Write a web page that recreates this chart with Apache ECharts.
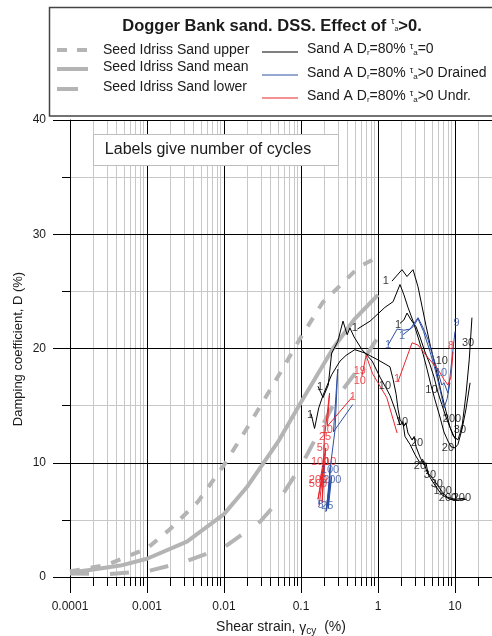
<!DOCTYPE html>
<html>
<head>
<meta charset="utf-8">
<script src="https://cdn.jsdelivr.net/npm/echarts@6/dist/echarts.min.js"></script>
<style>
  html, body { margin: 0; padding: 0; background: #fff; }
  #chart { width: 492px; height: 636px; }
</style>
</head>
<body>
<div id="chart"></div>
<script>
// ---- Data: [shear strain (%), damping D (%)] ----
// Seed & Idriss (1970) sand damping range
const seedIdrissUpper = [[0.0001,0.5],[0.0003,1.05],[0.001,2.5],[0.002,4.2],[0.0046,6.6],[0.01,9.8],[0.022,13.5],[0.046,17.1],[0.1,21],[0.19,24],[0.58,27.2],[1,28]];
const seedIdrissMean  = [[0.0001,0.4],[0.0002,0.65],[0.00045,1.0],[0.001,1.6],[0.0033,3.1],[0.01,5.5],[0.02,7.9],[0.032,9.9],[0.05,11.8],[0.1,15.3],[0.26,20],[0.5,22.6],[1,24.7]];
const seedIdrissLower = [[0.0001,0.3],[0.0003,0.25],[0.001,0.5],[0.003,1.3],[0.01,2.6],[0.03,4.9],[0.05,6.6],[0.1,9.7],[0.3,15.8],[0.5,17.8],[1,21]];

// Sand A, Dr = 80 %, tau_a = 0
const sandA0Test1 = [[0.135,14.3],[0.15,13.0],[0.17,14.8],[0.193,15.9],[0.25,17.7],[0.321,18.9],[0.385,19.4],[0.5,19.9],[0.68,19.6],[1.0,19.0],[1.43,18.4],[1.57,17.3],[1.72,16.0],[1.82,14.7],[1.93,13.8],[2.17,13.2],[2.3,13.5],[2.45,12.6],[2.77,12.0],[2.95,12.3],[3.12,11.4],[3.51,10.5],[3.96,9.8],[4.2,10.0],[4.45,9.1],[5.18,8.6],[5.98,8.0],[6.74,7.5],[7.87,7.0],[10,6.8],[13.5,6.9]];
const sandA0Test2 = [[0.166,16.7],[0.193,15.7],[0.226,16.8],[0.25,19.6],[0.30,20.6],[0.351,22.4],[0.398,21.2],[0.432,21.8],[0.49,21.0],[0.62,19.9],[0.84,18.9],[1.06,17.5],[1.26,16.6],[1.43,15.9],[1.66,14.7],[1.93,13.3],[2.1,13.6],[2.24,12.3],[2.61,11.6],[3.03,10.7],[3.51,10.0],[3.8,10.3],[4.33,9.2],[4.95,8.5],[5.8,7.8],[6.74,7.2],[8.61,6.8],[10.9,6.7],[13.9,6.8]];
const sandA0Test3 = [[0.54,21.7],[0.79,22.4],[1.23,23.6],[1.57,24.1],[1.93,25.6],[2.17,24.7],[2.45,23.6],[2.85,22.4],[3.31,21.0],[3.86,19.5],[4.33,18.2],[4.87,16.8],[5.5,15.5],[6.38,14.0],[7.18,12.7],[8.1,11.9],[8.87,11.4],[10,11.3],[10.9,11.6],[12.3,12.9],[13.9,14.7],[15.7,17.0]];
const sandA0Test4 = [[1.52,25.9],[2.05,26.9],[2.38,26.3],[2.85,26.9],[3.31,25.4],[3.7,23.8],[4.2,22.0],[4.8,20.2],[5.67,18.2],[6.6,16.2],[7.64,14.5],[8.61,13.1],[9.7,12.3],[10.9,12.0],[12.3,13.1],[13.9,16.0],[15.3,19.0],[16.6,22.7]];
const sandA0Test5 = [[1.93,22.2],[2.17,22.5],[2.38,23.1],[2.69,22.5],[3.12,21.9],[3.51,21.0],[4.08,19.7],[4.73,18.6],[5.34,17.5],[5.98,16.2],[6.74,15.1],[7.64,14.0],[8.61,13.1],[9.42,12.4],[10.3,12.0]];

// Sand A, Dr = 80 %, tau_a > 0, drained
const sandADrained1 = [[0.47,15.1],[0.264,12.7],[0.30,18.2],[0.277,12.9],[0.238,9.4],[0.226,6.0],[0.25,8.8],[0.214,5.8],[0.24,9.6],[0.222,6.2],[0.235,8.2],[0.21,5.7]];
const sandADrained2 = [[1.35,20.3],[1.77,21.7],[2.17,21.6],[2.61,21.7],[3.31,22.7],[3.86,21.8],[4.45,20.8],[5.18,19.3],[5.98,18.0],[6.74,16.8],[7.2,17.0],[8.1,16.1],[8.6,17.5],[10,21.5]];
const sandADrained3 = [[2.1,21.2],[2.85,21.9],[3.31,22.6],[3.9,21.5],[4.6,20.0],[5.4,18.4],[6.1,17.0],[6.7,15.8],[7.2,14.8],[7.9,15.6],[8.6,17.0]];

// Sand A, Dr = 80 %, tau_a > 0, undrained
const sandAUndrained1 = [[0.47,15.8],[0.22,13.2],[0.235,16.1],[0.2,12.0],[0.188,6.5],[0.21,11.3],[0.177,8.5],[0.205,10.1],[0.166,6.8],[0.195,9.5],[0.172,6.2]];
const sandAUndrained2 = [[0.62,17.6],[0.70,19.4],[0.85,17.8],[1.0,17.0],[1.3,15.7],[1.77,12.6]];
const sandAUndrained3 = [[1.82,17.1],[2.77,20.5],[3.31,20.3],[4.45,19.2],[5.98,18.2],[7.18,17.3],[8.1,16.8],[8.87,17.5],[9.42,19.7]];

// Cycle-number labels: [strain, D, cycles]
const cyclesBlack = [[0.131,14.2,1],[0.177,16.6,1],[0.50,21.8,1],[1.26,25.9,1],[1.82,22.1,1],[1.23,16.7,10],[2.05,13.6,10],[3.21,11.7,20],[3.51,9.7,20],[4.73,8.9,30],[5.8,8.1,30],[6.92,7.5,100],[8.1,6.9,200],[12.3,6.9,200],[4.95,16.4,10],[6.74,18.9,10],[9.14,13.8,200],[11.6,12.9,30],[8.1,11.3,20],[14.8,20.5,30]];
const cyclesRed = [[0.47,15.8,1],[0.216,12.9,10],[0.205,12.3,25],[0.193,11.3,50],[0.177,10.1,100],[0.24,10.1,10],[0.166,8.5,200],[0.166,8.1,500],[0.58,18.0,19],[0.58,17.2,10],[1.77,17.3,1],[8.87,20.2,8]];
const cyclesBlue = [[1.35,20.3,1],[2.05,21.1,1],[10.5,22.2,9],[6.6,17.9,10],[0.238,9.4,100],[0.255,8.5,200],[0.18,6.3,5],[0.22,6.2,25]];

// Axis ticks
const yTicks = { min: 0, max: 40, step: 10 };
const decadeLabels = { '-4': '0.0001', '-3': '0.001', '-2': '0.01', '-1': '0.1', '0': '1', '1': '10', '2': '100' };

// ---- Drawing ----
const FONT = "'Liberation Sans', Arial, Helvetica, sans-serif";
const GRAY = '#b4b4b4';
const BLACK = '#000000';
const BLUE = '#2d4fa3';
const RED = '#e8232b';
const TXT = '#1a1a1a';

// intermediate log-grid positions (2..9 within each decade)
const minorStrains = [];
for (let e = -4; e <= 1; e++) for (let k = 2; k <= 9; k++) minorStrains.push(k * Math.pow(10, e));

const measure = document.createElement('canvas').getContext('2d');
function fontStr(size, bold, italic) { return (italic ? 'italic ' : '') + (bold ? 'bold ' : '') + size + 'px ' + FONT; }
// pieces: [text, size, bold, dy, italic]
function textRun(pieces, x, y, align) {
  const widths = pieces.map(p => { measure.font = fontStr(p[1], p[2], p[4]); return measure.measureText(p[0]).width; });
  const total = widths.reduce((a, b) => a + b, 0);
  let cx = align === 'center' ? x - total / 2 : x;
  return pieces.map((p, i) => {
    const el = { type: 'text', x: cx, y: y + (p[3] || 0), z: 100,
      style: { text: p[0], font: fontStr(p[1], p[2], p[4]), fill: TXT, align: 'left', verticalAlign: 'middle' } };
    cx += widths[i];
    return el;
  });
}
function hLine(x1, x2, y, color, width, dash) {
  return { type: 'line', z: 100, shape: { x1, y1: y, x2, y2: y },
    style: { stroke: color, lineWidth: width, lineDash: dash || null } };
}

function testLine(data, color) {
  return { type: 'line', data, symbol: 'none', silent: true, z: 4, animation: false,
    lineStyle: { color, width: 1 } };
}
function seedLine(data, dash) {
  return { type: 'line', data, symbol: 'none', silent: true, z: 3, animation: false,
    lineStyle: { color: GRAY, width: 4, type: dash || 'solid', cap: 'butt' } };
}
function cycleLabels(data, color) {
  return { type: 'scatter', data, symbolSize: 1, silent: true, z: 6, animation: false,
    itemStyle: { color: 'transparent' },
    label: { show: true, position: 'inside', formatter: p => String(p.value[2]),
      color, fontSize: 11, fontFamily: FONT } };
}

const legendLeft = [
  ['Seed Idriss Sand upper', 50], ['Seed Idriss Sand mean', 67.5], ['Seed Idriss Sand lower', 87]
];
const graphics = [
  { type: 'rect', z: 90, shape: { x: 49.5, y: 7.5, width: 480, height: 108.5 },
    style: { fill: '#fff', stroke: '#444', lineWidth: 1.5 } },
  ...textRun([['Dogger Bank sand. DSS. Effect of ', 16.5, true], ['\u03c4', 9, false, -4], ['a', 7, false, 3], ['>0.', 16.5, true]], 272, 26, 'center'),
  hLine(57, 88, 50, GRAY, 4, [10, 10]),
  hLine(57, 88, 69, GRAY, 4),
  hLine(57, 78, 89, GRAY, 4),
  ...legendLeft.flatMap(([t, y]) => textRun([[t, 14]], 103, y)),
  hLine(262, 298, 52, BLACK, 1),
  hLine(262, 298, 75, BLUE, 1),
  hLine(262, 298, 98, RED, 1),
  ...textRun([['Sand A D', 14], ['r', 8, false, 4], ['=80% ', 14], ['\u03c4', 9, false, -2], ['a', 8, false, 4], ['=0', 14]], 307, 49),
  ...textRun([['Sand A D', 14], ['r', 8, false, 4], ['=80% ', 14], ['\u03c4', 9, false, -2], ['a', 8, false, 4], ['>0 Drained', 14]], 307, 73),
  ...textRun([['Sand A D', 14], ['r', 8, false, 4], ['=80% ', 14], ['\u03c4', 9, false, -2], ['a', 8, false, 4], ['>0 Undr.', 14]], 307, 96),
  { type: 'rect', z: 90, shape: { x: 93.5, y: 134.5, width: 245, height: 31 },
    style: { fill: '#fff', stroke: '#bdbdbd', lineWidth: 1 } },
  ...textRun([['Labels give number of cycles', 16]], 208, 150, 'center'),
  ...textRun([['Shear strain, ', 14], ['\u03b3', 14, false, 1], ['cy', 10, false, 4], ['  (%)', 14]], 281, 627, 'center'),
  { type: 'text', x: 18, y: 349, rotation: Math.PI / 2, z: 100,
    style: { text: 'Damping coefficient, D (%)', font: fontStr(13), fill: TXT, align: 'center', verticalAlign: 'middle' } }
];

const chart = echarts.init(document.getElementById('chart'), null, { renderer: 'canvas' });
chart.setOption({
  animation: false,
  backgroundColor: '#fff',
  grid: { left: 70, top: 120, width: 462, height: 457, containLabel: false, outerBoundsMode: 'none' },
  xAxis: {
    type: 'log', logBase: 10, min: 0.0001, max: 100,
    axisLine: { show: true, onZero: false, lineStyle: { color: BLACK, width: 1 } },
    axisTick: { show: true, length: 16, lineStyle: { color: BLACK } },
    axisLabel: { fontSize: 12, color: TXT, fontFamily: FONT, margin: 24,
      formatter: v => decadeLabels[String(Math.round(Math.log10(v)))] || '' },
    splitLine: { show: true, lineStyle: { color: BLACK, width: 1 } }
  },
  yAxis: {
    type: 'value', min: yTicks.min, max: yTicks.max, interval: yTicks.step,
    axisLine: { show: true, lineStyle: { color: BLACK, width: 1 } },
    axisTick: { show: true, length: 17, lineStyle: { color: BLACK } },
    minorTick: { show: true, splitNumber: 2, length: 8, lineStyle: { color: BLACK } },
    axisLabel: { fontSize: 12, color: TXT, fontFamily: FONT, margin: 24 },
    splitLine: { show: true, lineStyle: { color: BLACK, width: 1 } },
    minorSplitLine: { show: true, lineStyle: { color: '#c8c8c8', width: 1 } }
  },
  graphic: { elements: graphics },
  series: [
    {
      type: 'custom', data: minorStrains.map(v => [v, 0]), clip: false, silent: true, z: -1,
      renderItem(params, api) {
        const v = api.value(0);
        const bot = api.coord([v, yTicks.min]);
        const top = api.coord([v, yTicks.max]);
        const x = Math.round(bot[0]) + 0.5;
        return { type: 'group', children: [
          { type: 'line', shape: { x1: x, y1: bot[1], x2: x, y2: top[1] }, style: { stroke: '#c8c8c8', lineWidth: 1 } },
          { type: 'line', shape: { x1: x, y1: bot[1], x2: x, y2: bot[1] + 9 }, style: { stroke: BLACK, lineWidth: 1 } }
        ] };
      }
    },
    seedLine(seedIdrissUpper, [10, 11]),
    seedLine(seedIdrissMean),
    seedLine(seedIdrissLower, [19, 21]),
    testLine(sandA0Test1, BLACK),
    testLine(sandA0Test2, BLACK),
    testLine(sandA0Test3, BLACK),
    testLine(sandA0Test4, BLACK),
    testLine(sandA0Test5, BLACK),
    testLine(sandADrained1, BLUE),
    testLine(sandADrained2, BLUE),
    testLine(sandADrained3, BLUE),
    testLine(sandAUndrained1, RED),
    testLine(sandAUndrained2, RED),
    testLine(sandAUndrained3, RED),
    cycleLabels(cyclesBlack, BLACK),
    cycleLabels(cyclesBlue, BLUE),
    cycleLabels(cyclesRed, RED)
  ]
});
</script>
</body>
</html>
